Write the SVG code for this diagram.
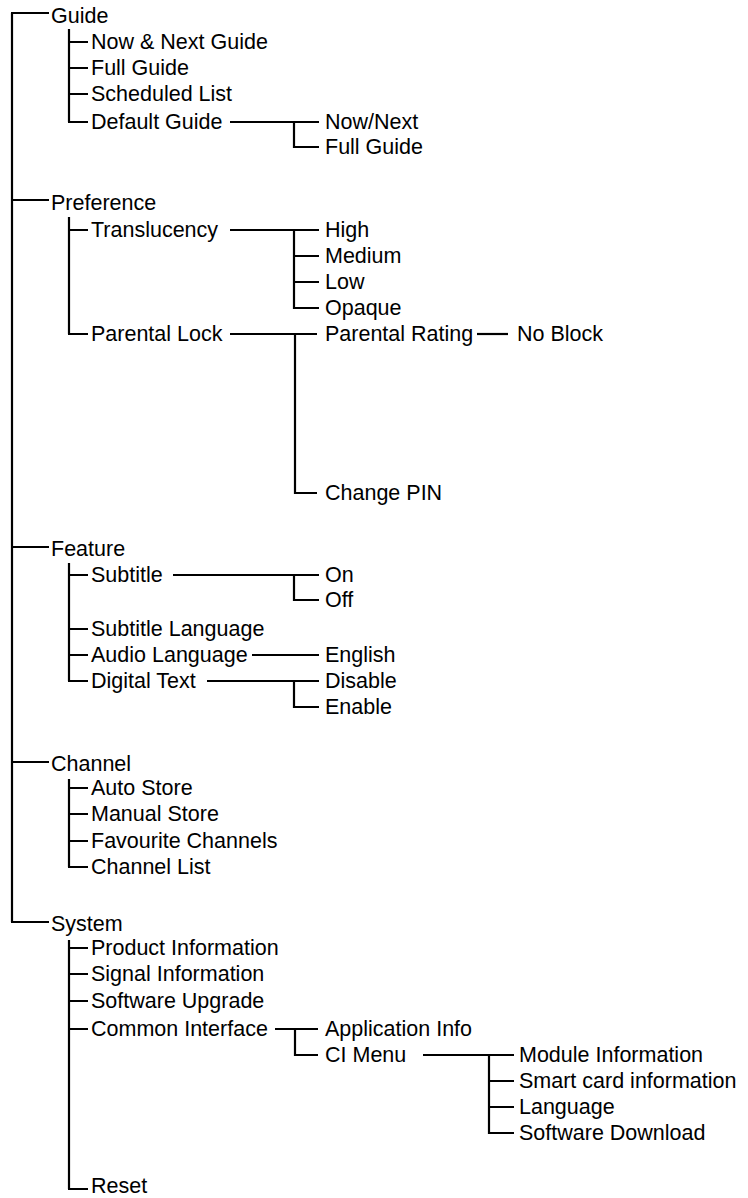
<svg xmlns="http://www.w3.org/2000/svg" width="748" height="1198" viewBox="0 0 748 1198">
<style>
text{font-family:"Liberation Sans",Arial,sans-serif;font-size:21.5px;fill:#000}
.c path{fill:none;stroke:#000;stroke-width:2.2;stroke-linecap:butt;stroke-linejoin:miter}
</style>
<rect width="748" height="1198" fill="#fff"/>
<g class="c" id="connectors">
<path d="M12,13V922M11,13H49M11,200H49M11,547H49M11,762H49M11,922H49"/>
<path d="M69,29V122M68,42H88M69,68H88M69,94H88M68,122H88"/>
<path d="M69,217V334M68,230H88M68,334H88"/>
<path d="M69,563V681M68,575H88M69,629H88M69,655H88M68,681H88"/>
<path d="M69,779V867M68,788H88M69,814H88M69,841H88M68,867H88"/>
<path d="M69,940V1189M68,948H88M69,974H88M69,1001H88M69,1029H88M68,1189H88"/>
<path d="M230,122H319M294,122V148M293,147H319"/>
<path d="M230,230H319M294,230V309M294,256H319M294,282H319M293,308H319"/>
<path d="M230,334H317M295,334V494M294,493H317"/>
<path d="M477,334H508"/>
<path d="M173,575H319M294,575V601M293,600H319"/>
<path d="M252,655H319"/>
<path d="M207,681H319M294,681V708M293,707H319"/>
<path d="M275,1029H318M295,1029V1056M294,1055H318"/>
<path d="M423,1055H514M489,1055V1134M489,1081H514M489,1107H514M488,1133H514"/>
</g>
<g id="guide"><text x="51" y="22.5">Guide</text></g>
<g id="now-next-guide"><text x="91" y="49">Now &amp; Next Guide</text></g>
<g id="full-guide"><text x="91" y="75">Full Guide</text></g>
<g id="scheduled-list"><text x="91" y="101">Scheduled List</text></g>
<g id="default-guide"><text x="91" y="129">Default Guide</text></g>
<g id="dg-now-next"><text x="325" y="129">Now/Next</text></g>
<g id="dg-full-guide"><text x="325" y="154">Full Guide</text></g>
<g id="preference"><text x="51" y="209.5">Preference</text></g>
<g id="translucency"><text x="91" y="237">Translucency</text></g>
<g id="high"><text x="325" y="237">High</text></g>
<g id="medium"><text x="325" y="263">Medium</text></g>
<g id="low"><text x="325" y="289">Low</text></g>
<g id="opaque"><text x="325" y="315">Opaque</text></g>
<g id="parental-lock"><text x="91" y="341">Parental Lock</text></g>
<g id="parental-rating"><text x="325" y="341">Parental Rating</text></g>
<g id="no-block"><text x="517" y="341">No Block</text></g>
<g id="change-pin"><text x="325" y="500">Change PIN</text></g>
<g id="feature"><text x="51" y="556">Feature</text></g>
<g id="subtitle"><text x="91" y="582">Subtitle</text></g>
<g id="on"><text x="325" y="582">On</text></g>
<g id="off"><text x="325" y="607">Off</text></g>
<g id="subtitle-language"><text x="91" y="636">Subtitle Language</text></g>
<g id="audio-language"><text x="91" y="662">Audio Language</text></g>
<g id="english"><text x="325" y="662">English</text></g>
<g id="digital-text"><text x="91" y="688">Digital Text</text></g>
<g id="disable"><text x="325" y="688">Disable</text></g>
<g id="enable"><text x="325" y="714">Enable</text></g>
<g id="channel"><text x="51" y="771">Channel</text></g>
<g id="auto-store"><text x="91" y="795">Auto Store</text></g>
<g id="manual-store"><text x="91" y="821">Manual Store</text></g>
<g id="favourite-channels"><text x="91" y="848">Favourite Channels</text></g>
<g id="channel-list"><text x="91" y="874">Channel List</text></g>
<g id="system"><text x="51" y="931">System</text></g>
<g id="product-information"><text x="91" y="955">Product Information</text></g>
<g id="signal-information"><text x="91" y="981">Signal Information</text></g>
<g id="software-upgrade"><text x="91" y="1008">Software Upgrade</text></g>
<g id="common-interface"><text x="91" y="1036">Common Interface</text></g>
<g id="application-info"><text x="325" y="1036">Application Info</text></g>
<g id="ci-menu"><text x="325" y="1062">CI Menu</text></g>
<g id="module-information"><text x="519" y="1062">Module Information</text></g>
<g id="smart-card-information"><text x="519" y="1088">Smart card information</text></g>
<g id="language"><text x="519" y="1114">Language</text></g>
<g id="software-download"><text x="519" y="1140">Software Download</text></g>
<g id="reset"><text x="91" y="1193">Reset</text></g>
</svg>
